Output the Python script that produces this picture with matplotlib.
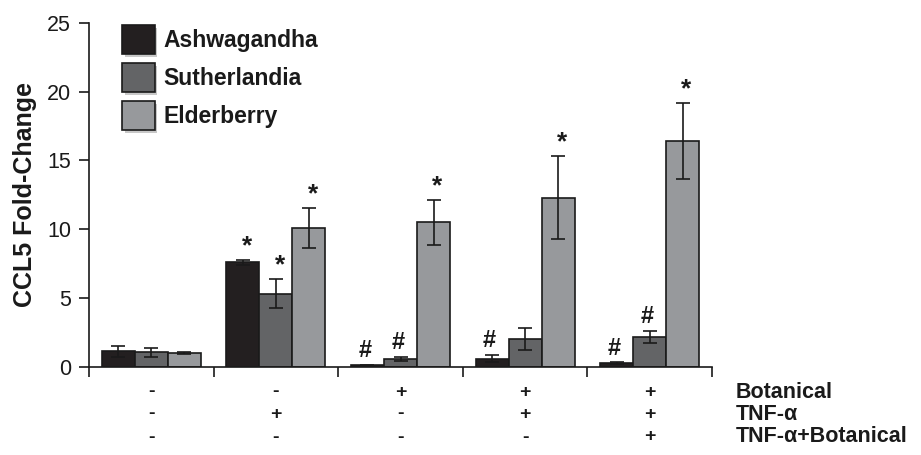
import matplotlib
matplotlib.use("Agg")
import matplotlib.pyplot as plt
import matplotlib.patheffects as pe
import numpy as np

plt.rcParams['font.family'] = ['Liberation Sans', 'DejaVu Sans']

series = ["Ashwagandha", "Sutherlandia", "Elderberry"]
colors = ["#231f20", "#636466", "#97999c"]
ashwagandha = [1.15, 7.6, 0.12, 0.6, 0.29]
ashwagandha_err = [0.4, 0.2, 0.03, 0.27, 0.05]
sutherlandia = [1.07, 5.33, 0.58, 2.06, 2.18]
sutherlandia_err = [0.33, 1.05, 0.15, 0.8, 0.45]
elderberry = [1.0, 10.1, 10.5, 12.3, 16.42]
elderberry_err = [0.08, 1.45, 1.64, 3.03, 2.74]
marks_a = ["", "*", "#", "#", "#"]
marks_s = ["", "*", "#", "", "#"]
marks_e = ["", "*", "*", "*", "*"]

row_labels = ["Botanical", "TNF-\u03b1", "TNF-\u03b1+Botanical"]
row_botanical = ["-", "-", "+", "+", "+"]
row_tnf = ["-", "+", "-", "+", "+"]
row_both = ["-", "-", "-", "-", "+"]

fig = plt.figure(figsize=(9.21, 4.55), dpi=100)
ax = fig.add_axes([89/921, 1-367/455, (712-89)/921, (367-22.7)/455])

x = np.arange(5)
w = 0.265
vals = [ashwagandha, sutherlandia, elderberry]
errs = [ashwagandha_err, sutherlandia_err, elderberry_err]
marks = [marks_a, marks_s, marks_e]
for i in range(3):
    xs = x + (i - 1) * w
    ax.bar(xs, vals[i], w, color=colors[i], edgecolor="#1a1a1a", linewidth=1.2,
           label=series[i], zorder=2)
    ax.errorbar(xs, vals[i], yerr=errs[i], fmt="none", ecolor="#1a1a1a",
                elinewidth=1.2, capsize=5, capthick=1.2, zorder=3)
    for j in range(5):
        m = marks[i][j]
        if m:
            top = vals[i][j] + errs[i][j]
            if m == "*":
                ax.text(xs[j] + 0.03, top + 0.1, m, ha="center", va="bottom",
                        fontsize=19, fontweight="bold", color="#1a1a1a")
            else:
                ax.text(xs[j] - 0.02, top + 0.2, m, ha="center", va="bottom",
                        fontsize=17, fontweight="bold", color="#1a1a1a")

ax.set_xlim(-0.5, 4.5)
ax.set_ylim(0, 25)
ax.set_yticks([0, 5, 10, 15, 20, 25])
ax.set_xticks(np.arange(-0.5, 5, 1))
ax.set_xticklabels([])
ax.spines["top"].set_visible(False)
ax.spines["right"].set_visible(False)
for s in ["left", "bottom"]:
    ax.spines[s].set_linewidth(1.2)
    ax.spines[s].set_color("#1a1a1a")
ax.tick_params(axis="both", direction="out", length=7, width=1.2, color="#1a1a1a")
ax.tick_params(axis="y", labelsize=15.5, labelcolor="#1a1a1a", pad=6)
ax.set_ylabel("CCL5 Fold-Change", fontsize=18, fontweight="bold", color="#1a1a1a", labelpad=7)

leg = ax.legend(loc="upper left", bbox_to_anchor=(111/921, 1-14/455),
                bbox_transform=fig.transFigure, frameon=False, borderpad=0,
                prop={"weight": "bold", "size": 16.5},
                handlelength=1.4, handleheight=1.55, labelspacing=0.4,
                handletextpad=0.4)
for h in leg.legend_handles:
    h.set_path_effects([pe.SimplePatchShadow(offset=(2, -2), shadow_rgbFace="#bbbbbb", alpha=0.8), pe.Normal()])
for t in leg.get_texts():
    t.set_color("#1a1a1a")

trans = matplotlib.transforms.blended_transform_factory(ax.transData, fig.transFigure)
rows = [row_botanical, row_tnf, row_both]
row_y = [1-392/455, 1-414/455, 1-437/455]
for r in range(3):
    for j in range(5):
        ax.text(x[j], row_y[r], rows[r][j], transform=trans, ha="center", va="center",
                fontsize=14, fontweight="bold", color="#1a1a1a")
    fig.text(736/921, row_y[r], row_labels[r], ha="left", va="center",
             fontsize=15.5, fontweight="bold", color="#1a1a1a")

fig.savefig("out.png", dpi=100)
